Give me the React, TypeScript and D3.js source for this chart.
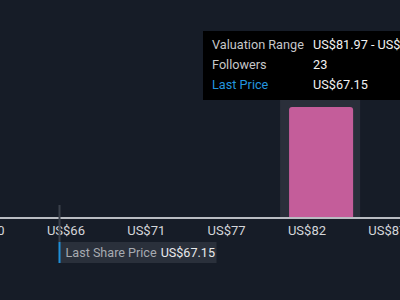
import React from "react";
import * as d3 from "d3";

const binStarts = [81.97];
const binEnds = [87.35];
const binCounts = [23];
const tickValues = [60.9, 66.3, 71.7, 77.1, 82.5, 87.9];
const lastPrice = 67.15;
const tooltipLabels = ["Valuation Range", "Followers", "Last Price"];
const tooltipValues = ["US$81.97 - US$87.35", "23", "US$67.15"];

const W = 400;
const H = 300;
const axisY = 218;
const plotTop = 107;

export default function App() {
  const x = d3.scaleLinear().domain([63.15, 90.03]).range([0, W]);
  const y = d3.scaleLinear().domain([0, d3.max(binCounts) as number]).range([axisY, plotTop]);
  const font = "Roboto, 'Noto Sans', sans-serif";
  const bars = binStarts.map((s, i) => ({ s, e: binEnds[i], c: binCounts[i] }));
  const px = x(lastPrice) - x(67.15) + 59.5;
  const r = 3;
  return (
    <div style={{ position: "fixed", left: 0, top: 0, width: W, height: H }}>
      <svg width={W} height={H} style={{ display: "block", background: "#161c27" }} fontFamily={font}>
        <rect x={0} y={0} width={W} height={H} fill="#161c27" />
        {bars.map((b, i) => {
          const x0 = x(b.s);
          const x1 = x(b.e);
          const bx0 = x0 + 9;
          const bx1 = x1 - 7;
          const top = y(b.c);
          const path = `M${bx0},${axisY} L${bx0},${top + r} Q${bx0},${top} ${bx0 + r},${top} L${bx1 - r},${top} Q${bx1},${top} ${bx1},${top + r} L${bx1},${axisY} Z`;
          return (
            <g key={i}>
              <rect x={x0} y={top - 7} width={x1 - x0} height={axisY - top + 7} fill="#2a2f3a" />
              <path d={path} fill="#c45d9a" />
            </g>
          );
        })}
        <line x1={0} x2={W} y1={axisY} y2={axisY} stroke="#b9bcc2" strokeWidth={2} />
        {tickValues.map((t, i) => (
          <text key={i} x={x(t)} y={235} fontSize={13} fill="#d4d6da" textAnchor="start">
            {"US$" + Math.floor(t)}
          </text>
        ))}
        <line x1={px} x2={px} y1={205} y2={242} stroke="#3a404b" strokeWidth={2} />
        <rect x={px} y={242} width={157} height={21} fill="#2a303b" />
        <rect x={px - 1} y={242} width={2} height={21} fill="#1f8fd9" />
        <text x={px + 6} y={257} fontSize={12.6} fill="#a6aab1">
          Last Share Price
          <tspan fill="#e8e9eb" dx={4}>{"US$" + lastPrice.toFixed(2)}</tspan>
        </text>
        <rect x={203} y={31} width={210} height={69} fill="#000000" />
        {tooltipLabels.map((l, i) => (
          <g key={i}>
            <text x={212} y={48.5 + i * 20} fontSize={12.7} fill={i === 2 ? "#2394df" : "#c6c7c9"}>{l}</text>
            <text x={313} y={48.5 + i * 20} fontSize={12.7} fill="#f2f2f2">{tooltipValues[i]}</text>
          </g>
        ))}
      </svg>
    </div>
  );
}
